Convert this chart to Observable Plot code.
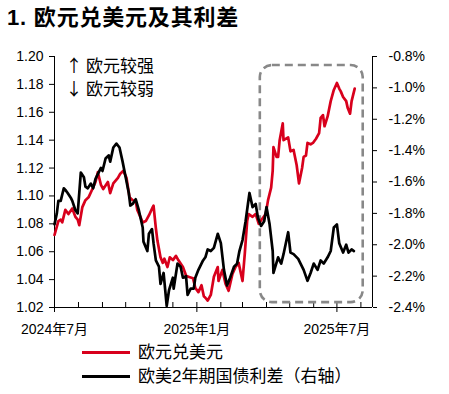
<!DOCTYPE html>
<html>
<head>
<meta charset="utf-8">
<script src="https://cdn.jsdelivr.net/npm/d3@7"></script>
<script src="https://cdn.jsdelivr.net/npm/@observablehq/plot@0.6"></script>
<style>
  body { margin:0; width:449px; height:394px; position:relative; overflow:hidden; background:#fff;
         font-family:"Liberation Sans", Arial, "Noto Sans CJK SC", sans-serif; color:#000; }
  #title { position:absolute; left:7px; top:7px; font-size:22px; line-height:22px; font-weight:bold; letter-spacing:0.8px; white-space:nowrap; }
  #chart { position:absolute; left:0; top:40px; }
  #note { position:absolute; left:62px; top:53px; font-size:17px; line-height:23px; white-space:nowrap; font-family:"Noto Sans CJK SC", sans-serif; }
  #note .ar { display:inline-block; width:24px; text-align:center; }
  #legend { position:absolute; left:82px; top:341px; font-size:17px; line-height:24px; white-space:nowrap; }
  .sw { display:inline-block; width:48px; height:3px; vertical-align:middle; margin-right:8px; position:relative; top:-1px; }
</style>
</head>
<body>
<div id="title">1. 欧元兑美元及其利差</div>
<div id="chart"></div>
<div id="note"><span class="ar">↑</span>欧元较强<br><span class="ar">↓</span>欧元较弱</div>
<div id="legend"></div>
<script>
// ---- data ----
const redDates = ["2024-07-01","2024-07-04","2024-07-06","2024-07-09","2024-07-11","2024-07-15","2024-07-19","2024-07-24","2024-07-28","2024-07-31",
"2024-08-02","2024-08-06","2024-08-10","2024-08-14","2024-08-19","2024-08-23","2024-08-26","2024-08-30","2024-09-02","2024-09-08",
"2024-09-11","2024-09-15","2024-09-21","2024-09-24","2024-09-28","2024-10-02","2024-10-06","2024-10-10","2024-10-14","2024-10-16",
"2024-10-20","2024-10-23","2024-10-27","2024-10-31","2024-11-05","2024-11-06","2024-11-09","2024-11-11","2024-11-15","2024-11-18",
"2024-11-20","2024-11-24","2024-11-27","2024-12-01","2024-12-05","2024-12-08","2024-12-14","2024-12-18","2024-12-21","2024-12-27",
"2024-12-30","2025-01-03","2025-01-07","2025-01-10","2025-01-12","2025-01-15","2025-01-19","2025-01-23","2025-01-28","2025-01-29",
"2025-02-03","2025-02-07","2025-02-11","2025-02-16","2025-02-20","2025-02-24","2025-03-01","2025-03-04","2025-03-07","2025-03-09",
"2025-03-14","2025-03-18","2025-03-22","2025-03-27","2025-03-31","2025-04-03","2025-04-07","2025-04-09","2025-04-10","2025-04-14",
"2025-04-16","2025-04-18","2025-04-22","2025-04-23","2025-04-29","2025-05-02","2025-05-06","2025-05-10","2025-05-13","2025-05-17",
"2025-05-19","2025-05-22","2025-05-24","2025-05-28","2025-05-31","2025-06-04","2025-06-08","2025-06-10","2025-06-13","2025-06-15",
"2025-06-19","2025-06-23","2025-06-27","2025-07-01","2025-07-04","2025-07-06","2025-07-09","2025-07-13","2025-07-15","2025-07-18",
"2025-07-20","2025-07-24"];
const eurusd = [1.072,1.078,1.082,1.083,1.081,1.090,1.087,1.091,1.085,1.083,
1.079,1.092,1.097,1.099,1.105,1.110,1.117,1.108,1.105,1.110,
1.102,1.109,1.113,1.116,1.118,1.113,1.099,1.097,1.096,1.090,
1.085,1.081,1.082,1.086,1.092,1.093,1.077,1.068,1.056,1.052,
1.055,1.049,1.056,1.054,1.057,1.054,1.049,1.043,1.042,1.041,
1.034,1.031,1.036,1.028,1.027,1.025,1.029,1.042,1.049,1.039,
1.047,1.037,1.032,1.044,1.049,1.052,1.039,1.059,1.082,1.087,
1.085,1.087,1.080,1.084,1.087,1.097,1.106,1.118,1.135,1.128,
1.128,1.140,1.152,1.140,1.142,1.132,1.133,1.122,1.109,1.120,
1.128,1.129,1.138,1.137,1.138,1.141,1.145,1.156,1.158,1.150,
1.157,1.168,1.176,1.181,1.177,1.175,1.171,1.168,1.163,1.159,
1.168,1.177];

const spreadDates = ["2024-07-01","2024-07-04","2024-07-06","2024-07-09","2024-07-13","2024-07-15","2024-07-18","2024-07-22","2024-07-24","2024-07-28",
"2024-07-31","2024-08-04","2024-08-08","2024-08-10","2024-08-13","2024-08-17","2024-08-20","2024-08-23","2024-08-26","2024-08-30",
"2024-09-01","2024-09-05","2024-09-09","2024-09-11","2024-09-15","2024-09-19","2024-09-23","2024-09-27","2024-10-01","2024-10-05",
"2024-10-07","2024-10-10","2024-10-14","2024-10-18","2024-10-23","2024-10-24","2024-10-29","2024-10-31","2024-11-04","2024-11-06",
"2024-11-09","2024-11-13","2024-11-15","2024-11-19","2024-11-23","2024-11-26","2024-12-01","2024-12-02","2024-12-07","2024-12-11",
"2024-12-14","2024-12-18","2024-12-20","2024-12-24","2024-12-28","2024-12-30","2025-01-03","2025-01-09","2025-01-12","2025-01-15",
"2025-01-19","2025-01-23","2025-01-28","2025-02-01","2025-02-05","2025-02-09","2025-02-13","2025-02-18","2025-02-22","2025-02-25",
"2025-03-01","2025-03-05","2025-03-08","2025-03-10","2025-03-14","2025-03-18","2025-03-21","2025-03-25","2025-03-29","2025-04-01",
"2025-04-05","2025-04-09","2025-04-10","2025-04-16","2025-04-20","2025-04-23","2025-04-29","2025-05-02","2025-05-06","2025-05-12",
"2025-05-15","2025-05-19","2025-05-24","2025-05-28","2025-06-01","2025-06-06","2025-06-10","2025-06-14","2025-06-19","2025-06-23",
"2025-06-27","2025-07-01","2025-07-04","2025-07-09","2025-07-13","2025-07-16","2025-07-20","2025-07-23"];
const spread = [-1.87,-1.80,-1.72,-1.72,-1.64,-1.65,-1.67,-1.70,-1.72,-1.78,
-1.80,-1.54,-1.57,-1.63,-1.64,-1.61,-1.64,-1.58,-1.55,-1.51,
-1.53,-1.45,-1.43,-1.47,-1.38,-1.355,-1.38,-1.47,-1.57,-1.67,
-1.75,-1.74,-1.71,-1.78,-1.89,-1.98,-2.04,-1.93,-1.90,-1.99,
-2.10,-2.14,-2.25,-2.18,-2.39,-2.29,-2.21,-2.28,-2.12,-2.14,
-2.21,-2.20,-2.32,-2.28,-2.28,-2.21,-2.16,-2.10,-2.08,-2.03,
-2.04,-2.02,-1.93,-1.99,-2.16,-2.26,-2.21,-2.14,-2.12,-2.04,
-1.97,-1.85,-1.74,-1.67,-1.76,-1.74,-1.83,-1.88,-1.85,-1.76,
-1.87,-2.04,-2.18,-2.08,-2.12,-2.06,-1.92,-2.05,-2.06,-2.09,
-2.12,-2.16,-2.23,-2.18,-2.12,-2.16,-2.10,-2.12,-2.08,-2.04,
-1.89,-1.87,-1.99,-2.05,-2.00,-2.05,-2.03,-2.04];

const leftTicks = [1.02,1.04,1.06,1.08,1.10,1.12,1.14,1.16,1.18,1.20];
const rightTicks = [-2.4,-2.2,-2.0,-1.8,-1.6,-1.4,-1.2,-1.0,-0.8];
const xLabelTicks = ["2024-07-01","2025-01-01","2025-07-01"];
const monthTicks = ["2024-07-01","2024-08-01","2024-09-01","2024-10-01","2024-11-01","2024-12-01","2025-01-01",
  "2025-02-01","2025-03-01","2025-04-01","2025-05-01","2025-06-01","2025-07-01","2025-08-01"];
const xDomain = ["2024-07-01","2025-08-16"];
const yDomain = [1.02, 1.20];
const rightDomain = [-2.4, -0.8];
const boxDates = ["2025-03-24","2025-08-04"];
const boxLevels = [1.0235, 1.1935];
const seriesNames = ["欧元兑美元","欧美2年期国债利差（右轴）"];
const seriesColors = ["#d8001c","#000000"];

// ---- build ----
const parse = d3.utcParse("%Y-%m-%d");
const toLeft = d3.scaleLinear().domain(rightDomain).range(yDomain);
const redData = redDates.map((d,i)=>({date:parse(d), v:eurusd[i]}));
const blackData = spreadDates.map((d,i)=>({date:parse(d), v:toLeft(spread[i])}));
const box = [{x1:parse(boxDates[0]), x2:parse(boxDates[1]), y1:boxLevels[0], y2:boxLevels[1]}];

const innerH = 302 - 16 - 35;
const chart = Plot.plot({
  width: 449, height: 302,
  marginTop: 16, marginBottom: 35, marginLeft: 54, marginRight: 77,
  x: {type: "utc", domain: xDomain.map(parse)},
  y: {domain: yDomain},
  style: {fontFamily: "'Liberation Sans', Arial, 'Noto Sans CJK SC', sans-serif", fontSize: "14px", color: "#000", background: "#fff", overflow: "visible"},
  marks: [
    Plot.axisY({ticks: leftTicks, tickFormat: d => d.toFixed(2), tickSize: 5, tickPadding: 6, label: null}),
    Plot.axisY({anchor: "right", ticks: rightTicks.map(toLeft), tickFormat: d => toLeft.invert(d).toFixed(1) + "%", tickSize: 4, tickPadding: 12, label: null}),
    Plot.axisX({ticks: xLabelTicks.map(parse), tickFormat: d => `${d.getUTCFullYear()}年${d.getUTCMonth()+1}月`, tickSize: 5, tickPadding: 12, label: null}),
    Plot.ruleX(monthTicks.map(parse), {insetTop: innerH - 5, stroke: "#000"}),
    Plot.ruleY([yDomain[0]], {stroke: "#000"}),
    Plot.ruleX(xDomain.map(parse), {stroke: "#000"}),
    Plot.rect(box, {x1: "x1", x2: "x2", y1: "y1", y2: "y2", rx: 12, fill: "none", stroke: "#888", strokeWidth: 2.6, strokeDasharray: "8,5"}),
    Plot.line(redData, {x: "date", y: "v", stroke: seriesColors[0], strokeWidth: 2.7}),
    Plot.line(blackData, {x: "date", y: "v", stroke: seriesColors[1], strokeWidth: 2.7})
  ]
});
document.getElementById("chart").appendChild(chart);

const legend = document.getElementById("legend");
seriesNames.forEach((n,i) => {
  const row = document.createElement("div");
  const sw = document.createElement("span");
  sw.className = "sw"; sw.style.background = seriesColors[i];
  row.appendChild(sw);
  row.appendChild(document.createTextNode(n));
  legend.appendChild(row);
});
</script>
</body>
</html>
